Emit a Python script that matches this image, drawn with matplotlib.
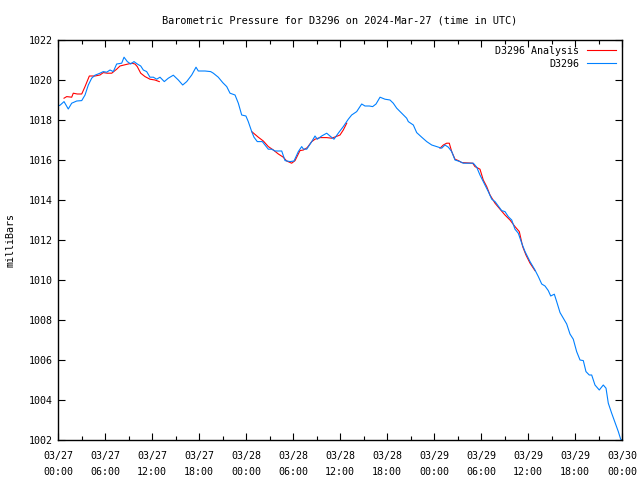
import numpy as np
import matplotlib
matplotlib.use("Agg")
import matplotlib.pyplot as plt
from matplotlib.ticker import MultipleLocator

# hours since 2024-03-27 00:00 UTC, pressure in mb
obs_hours = [0.0, 0.26, 0.77, 1.31, 1.75, 2.39, 3.03, 3.45, 3.87, 4.30, 4.72, 5.36, 5.78,
             6.22, 6.64, 7.06, 7.49, 8.13, 8.43, 8.85, 9.28, 9.70, 10.12, 10.56, 10.89,
             11.32, 11.74, 12.17, 12.60, 13.02, 13.57, 14.08, 14.72, 15.36, 15.92, 16.43,
             17.07, 17.62, 17.91, 18.77, 19.49, 19.83, 20.46, 21.03, 21.54, 21.96, 22.60,
             23.02, 23.45, 23.99, 24.29, 24.73, 25.02, 25.44, 26.08, 26.43, 26.85, 27.28,
             27.70, 28.56, 28.98, 29.62, 30.13, 30.68, 31.11, 31.32, 31.75, 32.39, 32.81,
             33.10, 33.66, 34.30, 34.72, 35.23, 35.78, 36.42, 37.06, 37.49, 38.13, 38.77,
             39.19, 39.74, 40.17, 40.60, 41.11, 41.74, 42.38, 42.80, 43.24, 43.88, 44.51,
             44.72, 45.36, 45.79, 46.43, 47.07, 47.71, 48.34, 48.98, 49.40, 49.83, 50.26,
             50.68, 51.32, 51.74, 53.02, 53.45, 53.87, 54.51, 54.93, 55.37, 55.79, 56.21,
             56.64, 57.06, 57.48, 57.92, 58.34, 58.76, 59.20, 59.62, 60.04, 60.26, 60.89,
             61.32, 61.75, 62.17, 62.59, 62.90, 63.36, 63.66, 64.09, 64.51, 64.94, 65.36,
             65.78, 66.21, 66.64, 67.06, 67.40, 67.82, 68.13, 68.55, 69.10, 69.61, 69.96,
             70.25, 70.68, 71.11, 71.53, 71.83, 72.0]
obs_mb = [1018.70, 1018.74, 1018.92, 1018.55, 1018.84, 1018.95, 1018.97, 1019.25, 1019.75,
          1020.09, 1020.24, 1020.34, 1020.42, 1020.39, 1020.50, 1020.42, 1020.80, 1020.84,
          1021.14, 1020.92, 1020.80, 1020.92, 1020.80, 1020.70, 1020.50, 1020.42, 1020.14,
          1020.14, 1020.04, 1020.14, 1019.92, 1020.09, 1020.24, 1020.00, 1019.75, 1019.92,
          1020.25, 1020.64, 1020.45, 1020.45, 1020.42, 1020.34, 1020.14, 1019.87, 1019.67,
          1019.34, 1019.25, 1018.84, 1018.25, 1018.20, 1017.92, 1017.42, 1017.14, 1016.92,
          1016.92, 1016.75, 1016.54, 1016.54, 1016.45, 1016.45, 1015.97, 1015.92, 1015.95,
          1016.42, 1016.67, 1016.55, 1016.54, 1016.92, 1017.20, 1017.04, 1017.20, 1017.34,
          1017.20, 1017.04, 1017.34, 1017.67, 1018.04, 1018.25, 1018.42, 1018.80, 1018.70,
          1018.70, 1018.67, 1018.80, 1019.14, 1019.04, 1019.00, 1018.84, 1018.59, 1018.34,
          1018.09, 1017.92, 1017.75, 1017.37, 1017.14, 1016.92, 1016.75, 1016.67, 1016.59,
          1016.75, 1016.64, 1016.42, 1016.00, 1015.92, 1015.84, 1015.84, 1015.64, 1015.25,
          1014.75, 1014.42, 1014.04, 1013.92, 1013.70, 1013.47, 1013.42, 1013.17, 1013.00,
          1012.54, 1012.34, 1011.84, 1011.42, 1011.09, 1010.92, 1010.50, 1010.17, 1009.80,
          1009.70, 1009.47, 1009.20, 1009.29, 1008.92, 1008.37, 1008.09, 1007.80, 1007.30,
          1007.04, 1006.42, 1006.00, 1005.97, 1005.42, 1005.25, 1005.25, 1004.75, 1004.50,
          1004.75, 1004.59, 1003.84, 1003.34, 1002.87, 1002.42, 1002.04, 1002.0]

# analysis runs (NaN separates the three 12-hour pieces)
ana_hours = [0.77, 1.11, 1.75, 1.95, 2.46, 3.03, 3.45, 4.00, 4.72, 5.36, 5.78, 6.29, 6.86,
             7.49, 7.91, 8.43, 8.85, 9.41, 9.83, 10.12, 10.56, 11.11, 11.74, 12.38, 12.93,
             np.nan,
             24.73, 25.57, 26.21, 26.85, 27.49, 28.13, 28.76, 29.19, 29.83, 30.26, 30.89,
             31.32, 31.82, 32.39, 32.81, 33.45, 34.30, 34.94, 35.49, 36.00, 36.42, 36.86,
             np.nan,
             48.77, 49.19, 49.62, 49.95, 50.26, 50.68, 51.10, 51.54, 52.94, 53.23, 53.87,
             54.29, 54.73, 55.15, 55.79, 56.43, 57.06, 57.70, 58.34, 58.89, 59.32, 59.74,
             60.26, 60.89]
ana_mb = [1019.09, 1019.17, 1019.14, 1019.34, 1019.30, 1019.30, 1019.67, 1020.20, 1020.20,
          1020.25, 1020.37, 1020.34, 1020.34, 1020.54, 1020.70, 1020.75, 1020.79, 1020.84,
          1020.80, 1020.67, 1020.34, 1020.17, 1020.04, 1020.00, 1019.92,
          np.nan,
          1017.42, 1017.14, 1016.95, 1016.67, 1016.50, 1016.30, 1016.14, 1015.95, 1015.84,
          1015.97, 1016.47, 1016.50, 1016.62, 1016.92, 1017.04, 1017.12, 1017.12, 1017.09,
          1017.17, 1017.25, 1017.50, 1017.84,
          np.nan,
          1016.59, 1016.75, 1016.84, 1016.84, 1016.42, 1016.04, 1015.97, 1015.87, 1015.84,
          1015.67, 1015.54, 1015.00, 1014.67, 1014.25, 1013.84, 1013.54, 1013.25, 1013.00,
          1012.67, 1012.42, 1011.67, 1011.25, 1010.84, 1010.47]

tick_hours = list(range(0, 73, 6))
tick_labels = ["03/27\n00:00", "03/27\n06:00", "03/27\n12:00", "03/27\n18:00",
               "03/28\n00:00", "03/28\n06:00", "03/28\n12:00", "03/28\n18:00",
               "03/29\n00:00", "03/29\n06:00", "03/29\n12:00", "03/29\n18:00",
               "03/30\n00:00"]

plt.rcParams["font.family"] = ["DejaVu Sans Mono"]
plt.rcParams["font.size"] = 7.2

fig = plt.figure(figsize=(6.4, 4.8), dpi=100)
ax = fig.add_axes([58 / 640, 40 / 480, 564 / 640, 400 / 480])

ax.plot(ana_hours, ana_mb, color="#ff0000", lw=0.8, label="D3296 Analysis")
ax.plot(obs_hours, obs_mb, color="#0080ff", lw=0.8, label="D3296")

ax.set_xlim(0, 72)
ax.set_ylim(1002, 1022)
ax.set_xticks(tick_hours)
ax.set_xticklabels(tick_labels, linespacing=1.7)
ax.xaxis.set_minor_locator(MultipleLocator(3))
ax.yaxis.set_major_locator(MultipleLocator(2))
ax.tick_params(which="both", direction="in", top=True, right=True, width=0.8, colors="black")
ax.tick_params(which="major", length=5, pad=4)
ax.tick_params(axis="x", which="major", pad=8)
ax.tick_params(which="minor", length=3)
for s in ax.spines.values():
    s.set_linewidth(1.0)

ax.set_ylabel("milliBars", labelpad=9)
ax.set_title("Barometric Pressure for D3296 on 2024-Mar-27 (time in UTC)", pad=12, fontsize=7.4)

ax.legend(loc="upper right", frameon=False, markerfirst=False, handlelength=2.9,
          handletextpad=0.8, borderpad=0.3, borderaxespad=0.3, labelspacing=0.3)

fig.savefig("out.png", dpi=100)
